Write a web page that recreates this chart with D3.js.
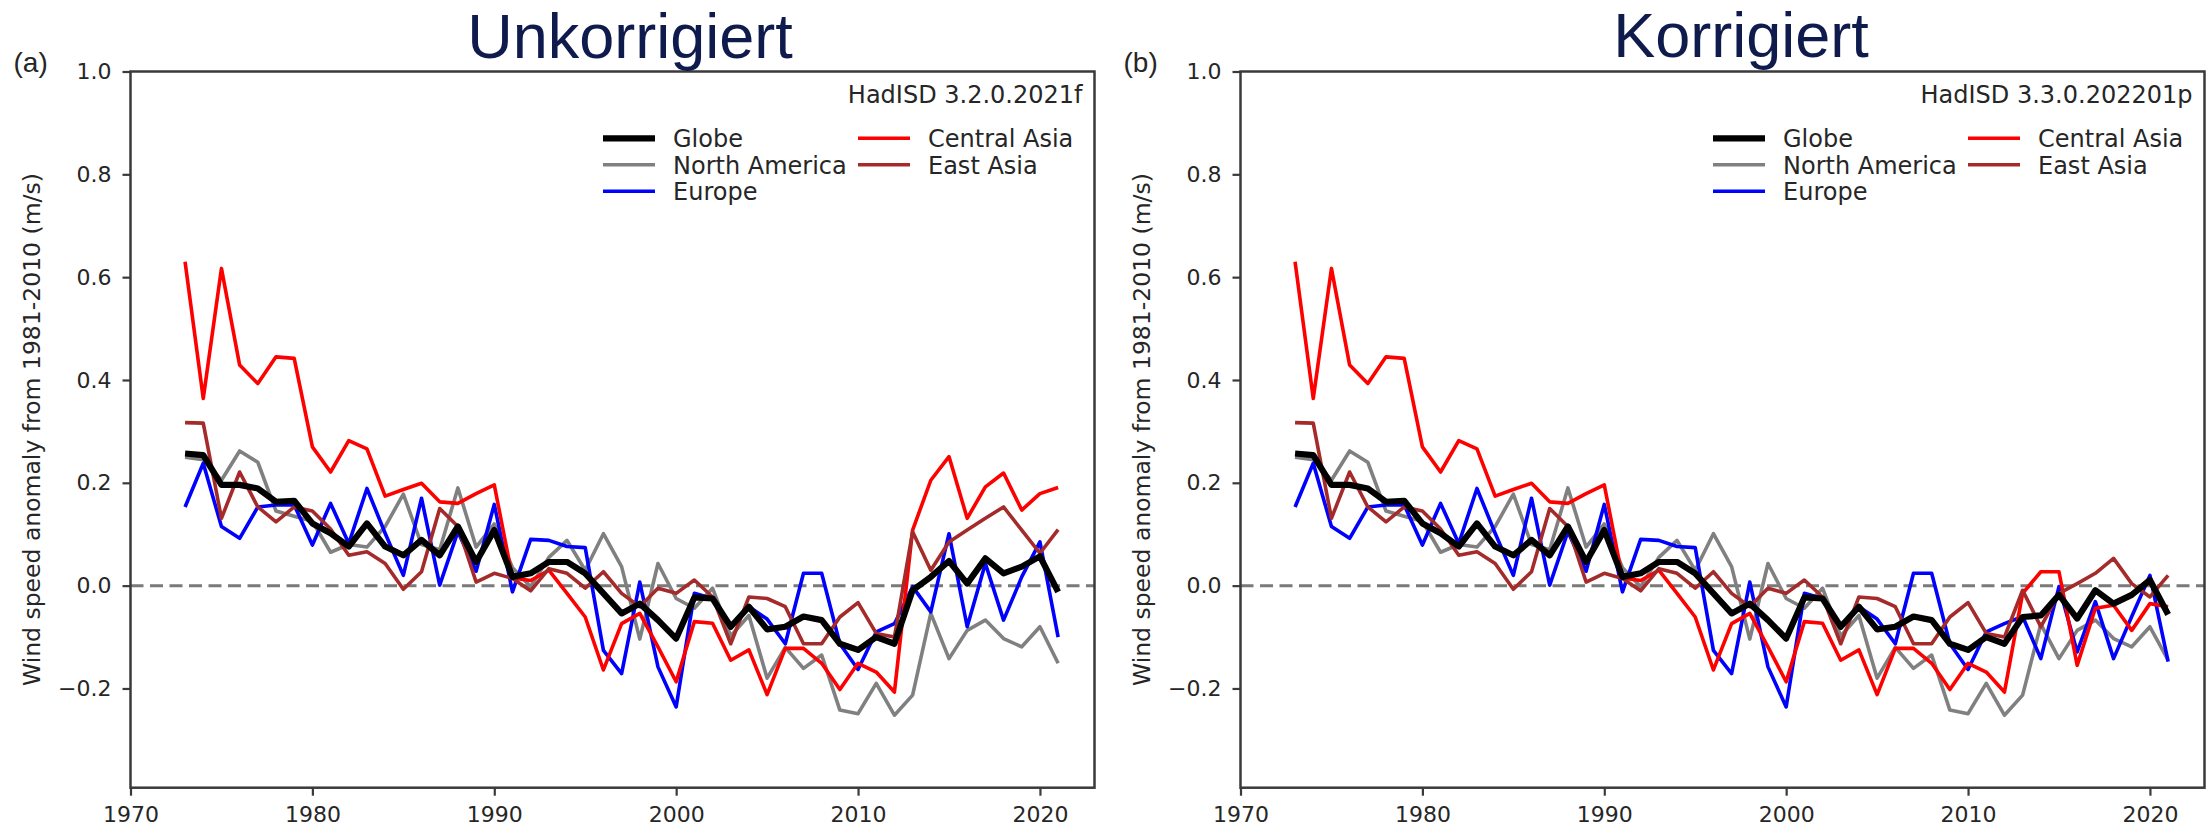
<!DOCTYPE html>
<html><head><meta charset="utf-8">
<script src="https://cdn.jsdelivr.net/npm/d3@7/dist/d3.min.js"></script>
<style>body{margin:0;background:#fff}svg{display:block}</style>
</head><body>
<svg id="chart" width="2208" height="829"></svg>
<script>
// ---------------- DATA ----------------
const years = [1973,1974,1975,1976,1977,1978,1979,1980,1981,1982,1983,1984,1985,1986,1987,1988,1989,1990,
  1991,1992,1993,1994,1995,1996,1997,1998,1999,2000,2001,2002,2003,2004,2005,2006,2007,2008,2009,2010,
  2011,2012,2013,2014,2015,2016,2017,2018,2019,2020,2021];

const seriesNames = ["Globe","North America","Europe","Central Asia","East Asia"];

// Panel (a) Unkorrigiert – HadISD 3.2.0.2021f
const globeA = [0.257,0.254,0.196,0.196,0.189,0.163,0.165,0.121,0.102,0.076,0.121,0.076,0.059,0.089,0.059,0.115,0.046,0.108,
  0.017,0.024,0.046,0.046,0.024,-0.015,-0.054,-0.035,-0.067,-0.103,-0.023,-0.025,-0.080,-0.041,-0.085,-0.080,-0.060,-0.067,-0.113,-0.125,
  -0.100,-0.113,-0.009,0.017,0.048,0.004,0.053,0.024,0.037,0.057,-0.012];
const northAmericaA = [0.250,0.245,0.205,0.262,0.240,0.145,0.135,0.125,0.065,0.080,0.075,0.115,0.178,0.080,0.070,0.190,0.075,0.120,
  0.035,-0.002,0.055,0.088,0.030,0.101,0.037,-0.104,0.043,-0.025,-0.044,-0.005,-0.098,-0.058,-0.180,-0.120,-0.161,-0.135,-0.242,-0.249,
  -0.190,-0.252,-0.213,-0.054,-0.142,-0.087,-0.067,-0.103,-0.119,-0.080,-0.151];
const europeA = [0.153,0.238,0.115,0.092,0.153,0.157,0.157,0.079,0.160,0.082,0.189,0.102,0.020,0.170,0.001,0.105,0.028,0.158,
  -0.012,0.090,0.088,0.076,0.074,-0.126,-0.171,0.007,-0.158,-0.236,-0.015,-0.025,-0.080,-0.041,-0.065,-0.113,0.024,0.024,-0.113,-0.163,
  -0.090,-0.074,-0.002,-0.051,0.101,-0.080,0.043,-0.067,0.017,0.085,-0.100];
const centralAsiaA = [0.630,0.364,0.617,0.429,0.393,0.445,0.442,0.270,0.221,0.282,0.266,0.174,0.187,0.199,0.163,0.160,0.179,0.196,
  0.015,0.010,0.030,-0.015,-0.061,-0.164,-0.074,-0.054,-0.119,-0.187,-0.070,-0.073,-0.145,-0.125,-0.212,-0.122,-0.122,-0.151,-0.202,-0.151,
  -0.168,-0.207,0.108,0.205,0.251,0.131,0.192,0.219,0.147,0.179,0.191];
const eastAsiaA = [0.317,0.316,0.131,0.221,0.153,0.124,0.153,0.145,0.110,0.059,0.066,0.043,-0.007,0.027,0.150,0.115,0.007,0.024,
  0.014,-0.010,0.033,0.024,-0.005,0.027,-0.015,-0.041,-0.005,-0.015,0.011,-0.022,-0.113,-0.022,-0.025,-0.041,-0.113,-0.113,-0.061,-0.033,
  -0.093,-0.100,0.105,0.030,0.085,0.108,0.131,0.153,0.108,0.063,0.109];

// Panel (b) Korrigiert – HadISD 3.3.0.202201p
const globeB = [0.257,0.254,0.196,0.196,0.189,0.163,0.165,0.121,0.102,0.076,0.121,0.076,0.059,0.089,0.059,0.115,0.046,0.108,
  0.017,0.024,0.046,0.046,0.024,-0.015,-0.054,-0.035,-0.067,-0.103,-0.023,-0.025,-0.080,-0.041,-0.085,-0.080,-0.060,-0.067,-0.113,-0.125,
  -0.100,-0.113,-0.061,-0.058,-0.018,-0.064,-0.009,-0.035,-0.018,0.011,-0.056];
const northAmericaB = [0.250,0.245,0.205,0.262,0.240,0.145,0.135,0.125,0.065,0.080,0.075,0.115,0.178,0.080,0.070,0.190,0.075,0.120,
  0.035,-0.002,0.055,0.088,0.030,0.101,0.037,-0.104,0.043,-0.025,-0.044,-0.005,-0.098,-0.058,-0.180,-0.120,-0.161,-0.135,-0.242,-0.249,
  -0.190,-0.252,-0.213,-0.075,-0.142,-0.087,-0.067,-0.103,-0.119,-0.080,-0.145];
const europeB = [0.153,0.238,0.115,0.092,0.153,0.157,0.157,0.079,0.160,0.082,0.189,0.102,0.020,0.170,0.001,0.105,0.028,0.158,
  -0.012,0.090,0.088,0.076,0.074,-0.126,-0.171,0.007,-0.158,-0.236,-0.015,-0.025,-0.080,-0.041,-0.065,-0.113,0.024,0.024,-0.113,-0.163,
  -0.090,-0.074,-0.060,-0.142,-0.002,-0.129,-0.031,-0.142,-0.060,0.020,-0.148];
const centralAsiaB = [0.630,0.364,0.617,0.429,0.393,0.445,0.442,0.270,0.221,0.282,0.266,0.174,0.187,0.199,0.163,0.160,0.179,0.196,
  0.015,0.010,0.030,-0.015,-0.061,-0.164,-0.074,-0.054,-0.119,-0.187,-0.070,-0.073,-0.145,-0.125,-0.212,-0.122,-0.122,-0.151,-0.202,-0.151,
  -0.168,-0.207,-0.015,0.027,0.027,-0.155,-0.044,-0.038,-0.087,-0.035,-0.041];
const eastAsiaB = [0.317,0.316,0.131,0.221,0.153,0.124,0.153,0.145,0.110,0.059,0.066,0.043,-0.007,0.027,0.150,0.115,0.007,0.024,
  0.014,-0.010,0.033,0.024,-0.005,0.027,-0.015,-0.041,-0.005,-0.015,0.011,-0.022,-0.113,-0.022,-0.025,-0.041,-0.113,-0.113,-0.061,-0.033,
  -0.093,-0.100,-0.009,-0.080,-0.015,0.004,0.024,0.053,0.004,-0.022,0.020];

const xTicks = [1970,1980,1990,2000,2010,2020];
const yTicks = [-0.2,0.0,0.2,0.4,0.6,0.8,1.0];
const xDomain = [1970, 2023];
const yDomain = [-0.393, 1.0];

const panelTags = ["(a)","(b)"];
const panelTitles = ["Unkorrigiert","Korrigiert"];
const versionLabels = ["HadISD 3.2.0.2021f","HadISD 3.3.0.202201p"];
const yLabel = "Wind speed anomaly from 1981-2010 (m/s)";

// ---------------- STYLE / LAYOUT ----------------
const colors = {"Globe":"#000000","North America":"#808080","Europe":"#0000ff","Central Asia":"#ff0000","East Asia":"#a52a2a"};
const widths = {"Globe":6.2,"North America":3.6,"Europe":3.6,"Central Asia":3.6,"East Asia":3.6};
const drawOrder = ["North America","Europe","Central Asia","East Asia","Globe"];
const textColor = "#262626";
const spineColor = "#3a3a3a";
const dejavu = "'DejaVu Sans', sans-serif";
const arial = "'Liberation Sans', Arial, sans-serif";

const layout = [
  {left:130.5, right:1094.5, titleX:630, titleY:58},
  {left:1240.5, right:2204.5, titleX:1741, titleY:57}
];
const plotTop = 71.5, plotBottom = 787.7;

const panelData = [
  {"Globe":globeA,"North America":northAmericaA,"Europe":europeA,"Central Asia":centralAsiaA,"East Asia":eastAsiaA},
  {"Globe":globeB,"North America":northAmericaB,"Europe":europeB,"Central Asia":centralAsiaB,"East Asia":eastAsiaB}
];

const svg = d3.select("#chart");
svg.append("rect").attr("width",2208).attr("height",829).attr("fill","#fff");

layout.forEach((L, pi) => {
  const x = d3.scaleLinear().domain(xDomain).range([L.left, L.right]);
  const y = d3.scaleLinear().domain(yDomain).range([plotBottom, plotTop]);
  const g = svg.append("g");

  // zero line
  g.append("line")
    .attr("x1", L.left).attr("x2", L.right)
    .attr("y1", y(0)).attr("y2", y(0))
    .attr("stroke","#7a7a7a").attr("stroke-width",3)
    .attr("stroke-dasharray","13,6.5");

  // series
  const line = d3.line().x((d,i)=>x(years[i])).y(d=>y(d));
  drawOrder.forEach(name => {
    g.append("path")
      .datum(panelData[pi][name])
      .attr("d", line)
      .attr("fill","none")
      .attr("stroke", colors[name])
      .attr("stroke-width", widths[name])
      .attr("stroke-linejoin","round");
  });

  // frame
  g.append("rect")
    .attr("x", L.left).attr("y", plotTop)
    .attr("width", L.right - L.left).attr("height", plotBottom - plotTop)
    .attr("fill","none").attr("stroke", spineColor).attr("stroke-width",2.5);

  // axes
  const xAxis = d3.axisBottom(x).tickValues(xTicks).tickFormat(d3.format("d")).tickSize(8).tickPadding(11);
  const gx = g.append("g").attr("transform",`translate(0,${plotBottom})`).call(xAxis);
  const yAxis = d3.axisLeft(y).tickValues(yTicks).tickFormat(d3.format(".1f")).tickSize(8).tickPadding(11);
  const gy = g.append("g").attr("transform",`translate(${L.left},0)`).call(yAxis);
  [gx, gy].forEach(a => {
    a.select(".domain").remove();
    a.selectAll(".tick line").attr("stroke", spineColor).attr("stroke-width",2.2);
    a.selectAll(".tick text").attr("fill", textColor).style("font-family", dejavu).style("font-size","22px");
  });

  // y label
  g.append("text")
    .attr("transform",`translate(${L.left - 91},${(plotTop+plotBottom)/2}) rotate(-90)`)
    .attr("text-anchor","middle")
    .attr("fill", textColor)
    .style("font-family", dejavu).style("font-size","23.5px")
    .text(yLabel);

  // panel tag
  g.append("text")
    .attr("x", L.left - 117).attr("y", 72)
    .attr("fill", textColor)
    .style("font-family", arial).style("font-size","28px")
    .text(panelTags[pi]);

  // title
  g.append("text")
    .attr("x", L.titleX).attr("y", L.titleY)
    .attr("text-anchor","middle")
    .attr("fill","#0f1b4d")
    .style("font-family", arial).style("font-size","63px")
    .text(panelTitles[pi]);

  // version text
  g.append("text")
    .attr("x", L.right - 12).attr("y", 103)
    .attr("text-anchor","end")
    .attr("fill", textColor)
    .style("font-family", dejavu).style("font-size","24px")
    .text(versionLabels[pi]);

  // legend
  const legendPos = [
    {name:"Globe", col:0, row:0},
    {name:"North America", col:0, row:1},
    {name:"Europe", col:0, row:2},
    {name:"Central Asia", col:1, row:0},
    {name:"East Asia", col:1, row:1}
  ];
  const colX = [L.left + 472.5, L.left + 727.5];
  const rowY = [147, 173.5, 200];
  legendPos.forEach(e => {
    const hx = colX[e.col], by = rowY[e.row];
    g.append("line")
      .attr("x1", hx).attr("x2", hx + 52)
      .attr("y1", by - 8.7).attr("y2", by - 8.7)
      .attr("stroke", colors[e.name]).attr("stroke-width", widths[e.name]);
    g.append("text")
      .attr("x", hx + 70).attr("y", by)
      .attr("fill", textColor)
      .style("font-family", dejavu).style("font-size","24px")
      .text(e.name);
  });
});
</script>
</body></html>
